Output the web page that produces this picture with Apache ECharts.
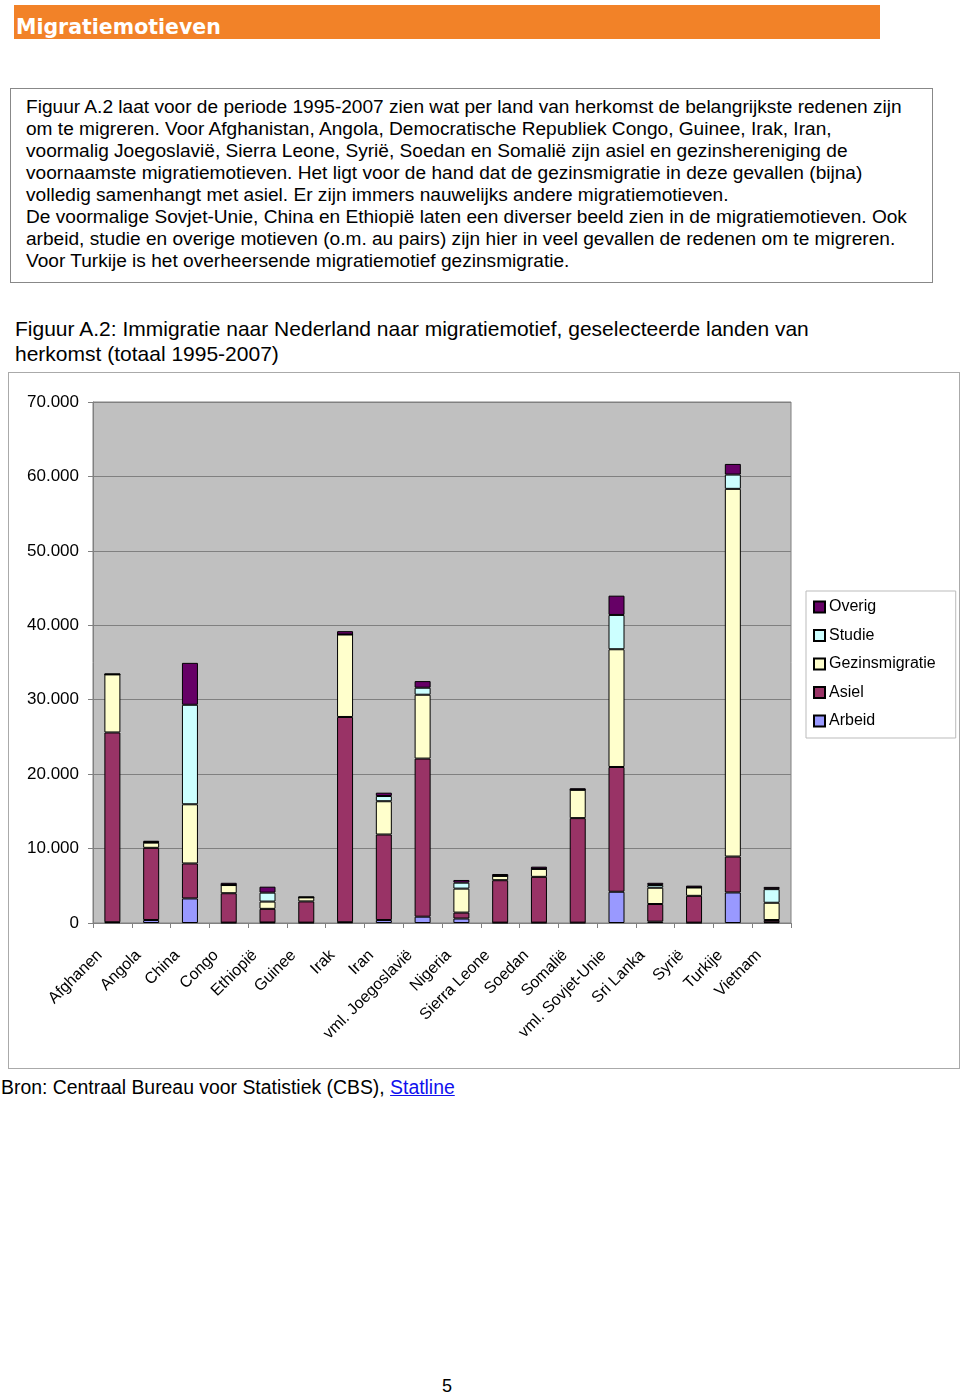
<!DOCTYPE html>
<html>
<head>
<meta charset="utf-8">
<script src="https://cdn.jsdelivr.net/npm/echarts@6/dist/echarts.min.js"></script>
<style>
  html, body { margin: 0; padding: 0; background: #fff; }
  body { width: 960px; height: 1396px; position: relative; overflow: hidden; font-family: "Liberation Sans", Arial, sans-serif; color: #000; }
  .abs { position: absolute; }
  #hdr { left: 14px; top: 5px; width: 866px; height: 34px; background: #f28228; }
  #hdrtxt { left: 16px; top: 15px; font-family: "DejaVu Sans", sans-serif; font-weight: bold; font-size: 20.5px; color: #fff; line-height: 24px; white-space: nowrap; }
  #box { left: 10px; top: 88px; width: 921px; height: 193px; border: 1px solid #888; }
  #para { left: 26px; top: 96px; font-size: 19.1px; line-height: 22px; white-space: nowrap; }
  #cap { left: 15px; top: 316px; font-size: 21px; line-height: 25px; white-space: nowrap; }
  #chartbox { left: 8px; top: 372px; width: 950px; height: 695px; border: 1px solid #aaa; }
  #chart { left: 8px; top: 372px; width: 952px; height: 697px; }
  #src { left: 1px; top: 1076px; font-size: 19.4px; line-height: 22px; white-space: nowrap; }
  #src a { color: #1010ee; text-decoration: underline; }
  #pg { left: 442px; top: 1375px; font-size: 18px; line-height: 22px; }
</style>
</head>
<body>
<div id="hdr" class="abs"></div>
<div id="hdrtxt" class="abs">Migratiemotieven</div>
<div id="box" class="abs"></div>
<div id="para" class="abs">Figuur A.2 laat voor de periode 1995-2007 zien wat per land van herkomst de belangrijkste redenen zijn<br>om te migreren. Voor Afghanistan, Angola, Democratische Republiek Congo, Guinee, Irak, Iran,<br>voormalig Joegoslavië, Sierra Leone, Syrië, Soedan en Somalië zijn asiel en gezinshereniging de<br>voornaamste migratiemotieven. Het ligt voor de hand dat de gezinsmigratie in deze gevallen (bijna)<br>volledig samenhangt met asiel. Er zijn immers nauwelijks andere migratiemotieven.<br>De voormalige Sovjet-Unie, China en Ethiopië laten een diverser beeld zien in de migratiemotieven. Ook<br>arbeid, studie en overige motieven (o.m. au pairs) zijn hier in veel gevallen de redenen om te migreren.<br>Voor Turkije is het overheersende migratiemotief gezinsmigratie.</div>
<div id="cap" class="abs">Figuur A.2: Immigratie naar Nederland naar migratiemotief, geselecteerde landen van<br>herkomst (totaal 1995-2007)</div>
<div id="chartbox" class="abs"></div>
<div id="chart" class="abs"></div>
<div id="src" class="abs">Bron: Centraal Bureau voor Statistiek (CBS), <a href="#">Statline</a></div>
<div id="pg" class="abs">5</div>
<script>
// ---- data ----
var categories = ['Afghanen','Angola','China','Congo','Ethiopië','Guinee','Irak','Iran','vml. Joegoslavië','Nigeria','Sierra Leone','Soedan','Somalië','vml. Sovjet-Unie','Sri Lanka','Syrië','Turkije','Vietnam'];
var arbeid        = [100,  400, 3300,   50,   70,   50,  100,  400,  850,  600,   50,   50,   50, 4200,  180,   50, 4100,  100];
var asiel         = [25500, 9700, 4700, 3950, 1830, 2850, 27580, 11490, 21240, 800, 5700, 6150, 14040, 16760, 2370, 3600, 4830,  300];
var gezinsmigratie= [7800,  700, 7950, 1100,  980,  540, 11080, 4470, 8580, 3220,  580, 1070, 3810, 15820, 2190, 1120, 49400, 2320];
var studie        = [0,      50, 13370,  0, 1200,    0,    0,  700,  940,  800,    0,    0,    0, 4610,  360,    0, 1920, 1830];
var overig        = [100,   200, 5630,  300,  800,  100,  450,  450,  890,  360,  250,  300,  200, 2590,  300,  250, 1430,  300];
var yTicks = { min: 0, max: 70000, interval: 10000 };
var seriesNames = ['Arbeid','Asiel','Gezinsmigratie','Studie','Overig'];
var legendOrder = ['Overig','Studie','Gezinsmigratie','Asiel','Arbeid'];

var colors = { 'Arbeid':'#9999ff', 'Asiel':'#993366', 'Gezinsmigratie':'#ffffcc', 'Studie':'#ccffff', 'Overig':'#660066' };
var values = { 'Arbeid':arbeid, 'Asiel':asiel, 'Gezinsmigratie':gezinsmigratie, 'Studie':studie, 'Overig':overig };

function fmt(v) { return String(v).replace(/\B(?=(\d{3})+(?!\d))/g, '.'); }

var chart = echarts.init(document.getElementById('chart'));
chart.setOption({
  animation: false,
  textStyle: { fontFamily: 'Liberation Sans, Arial, sans-serif' },
  grid: { left: 85, top: 30, width: 698, height: 521, show: true, backgroundColor: '#c0c0c0', borderColor: '#808080', borderWidth: 1 },
  legend: {
    data: legendOrder, orient: 'vertical', left: 798, top: 219,
    backgroundColor: '#fff', borderColor: '#bbb', borderWidth: 1,
    padding: [8, 20, 9, 7], itemGap: 12.5, itemWidth: 11, itemHeight: 11,
    textStyle: { fontSize: 16, color: '#000', padding: [0, 0, 0, -1] }, icon: 'rect'
  },
  xAxis: {
    type: 'category', data: categories,
    axisLine: { lineStyle: { color: '#808080' } },
    axisTick: { show: true, length: 5, lineStyle: { color: '#808080' } },
    axisLabel: { interval: 0, rotate: 45, fontSize: 16, color: '#000', margin: 17, padding: [0, 18, 0, 0] }
  },
  yAxis: {
    type: 'value', min: yTicks.min, max: yTicks.max, interval: yTicks.interval,
    axisLine: { show: true, lineStyle: { color: '#808080' } },
    axisTick: { show: true, length: 5, lineStyle: { color: '#808080' } },
    axisLabel: { fontSize: 17, color: '#000', margin: 14, formatter: fmt },
    splitLine: { lineStyle: { color: '#808080', width: 1 } }
  },
  series: seriesNames.map(function (n) {
    return {
      name: n, type: 'bar', stack: 'total', barWidth: 16, data: values[n],
      itemStyle: { color: colors[n], borderColor: '#000', borderWidth: 1 }
    };
  })
});
</script>
</body>
</html>
